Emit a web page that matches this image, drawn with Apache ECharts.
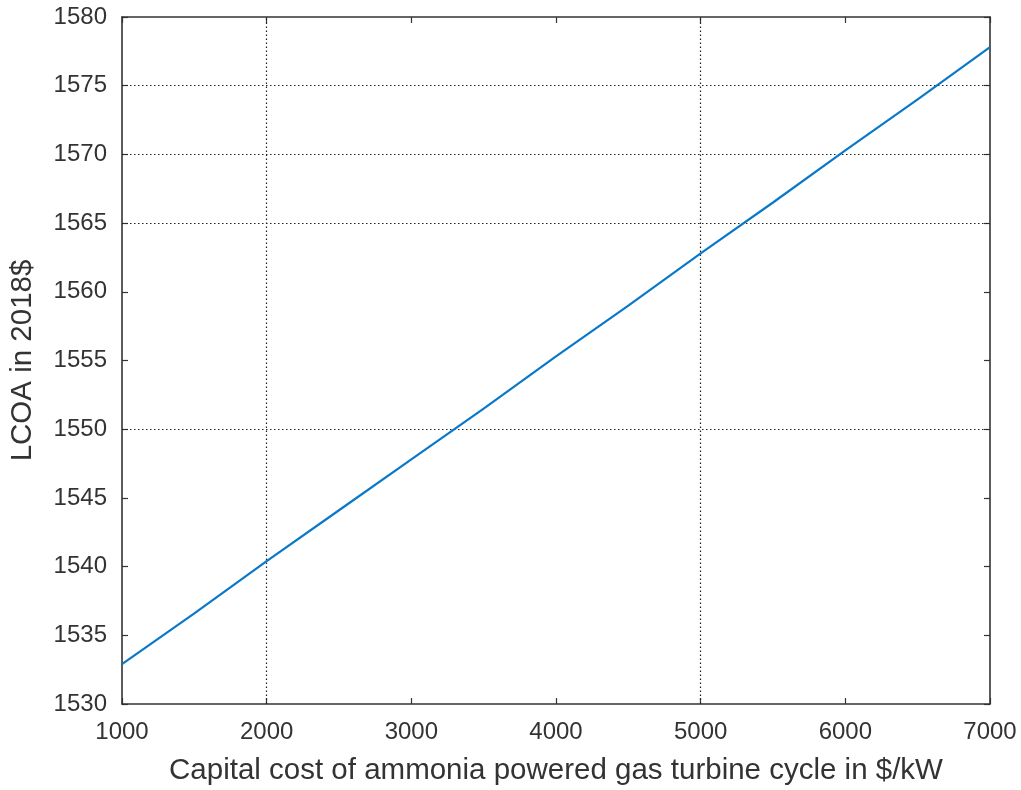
<!DOCTYPE html>
<html><head><meta charset="utf-8">
<script src="https://cdn.jsdelivr.net/npm/echarts@6/dist/echarts.min.js"></script>
<style>html,body{margin:0;padding:0;background:#fff}#c{width:1021px;height:790px}</style>
</head><body><div id="c"></div>
<script>
const capitalCost = [1000,1500,2000,2500,3000,3500,4000,4500,5000,5500,6000,6500,7000];
const lcoa = [1532.9,1536.6,1540.4,1544.1,1547.8,1551.5,1555.3,1559.0,1562.8,1566.5,1570.3,1574.0,1577.8];
const xGridValues = [2000,5000];
const yGridValues = [1550,1565,1570,1575];
const xName = 'Capital cost of ammonia powered gas turbine cycle in $/kW';
const yName = 'LCOA in 2018$';

const font = 'Liberation Sans, Arial, sans-serif';
const axisCol = '#333';
const txtCol = '#333';
const chart = echarts.init(document.getElementById('c'), null, {renderer:'canvas'});
const baseX = {type:'value', min:1000, max:7000, interval:1000};
const baseY = {type:'value', min:1530, max:1580, interval:5};
const gridLine = {color:'#222', type:[1.5,2.5], width:1.2};
const tick = {show:true, inside:true, length:6, lineStyle:{color:axisCol, width:1.2}};
const aLine = {show:true, onZero:false, lineStyle:{color:axisCol, width:1.6}};
chart.setOption({
  animation:false,
  grid:{left:122, right:31, top:17, bottom:86, containLabel:false, outerBoundsMode:'none'},
  xAxis:[
    Object.assign({}, baseX, {position:'bottom', name:xName, nameLocation:'middle', nameGap:52,
      nameTextStyle:{fontFamily:font, fontSize:29.5, color:txtCol},
      axisLine:aLine, axisTick:tick,
      axisLabel:{fontFamily:font, fontSize:24, color:txtCol, margin:16, formatter:v=>String(v)},
      splitLine:{show:false}}),
    Object.assign({}, baseX, {position:'top', axisLine:aLine, axisTick:tick,
      axisLabel:{show:false}, splitLine:{show:false}})
  ],
  yAxis:[
    Object.assign({}, baseY, {position:'left', name:yName, nameLocation:'middle', nameGap:84, nameRotate:90,
      nameTextStyle:{fontFamily:font, fontSize:29.5, color:txtCol},
      axisLine:aLine, axisTick:tick,
      axisLabel:{fontFamily:font, fontSize:24, color:txtCol, margin:15, formatter:v=>String(v)},
      splitLine:{show:false}}),
    Object.assign({}, baseY, {position:'right', axisLine:aLine, axisTick:tick,
      axisLabel:{show:false}, splitLine:{show:false}})
  ],
  series:[{
    type:'line', xAxisIndex:0, yAxisIndex:0,
    data: capitalCost.map((x,i)=>[x, lcoa[i]]),
    showSymbol:false, symbol:'none',
    lineStyle:{color:'#0a78c8', width:2.2},
    z:5,
    markLine:{
      silent:true, symbol:['none','none'], label:{show:false}, z:1,
      lineStyle:gridLine,
      data:[].concat(xGridValues.map(v=>({xAxis:v})), yGridValues.map(v=>({yAxis:v})))
    }
  }]
});
</script></body></html>
